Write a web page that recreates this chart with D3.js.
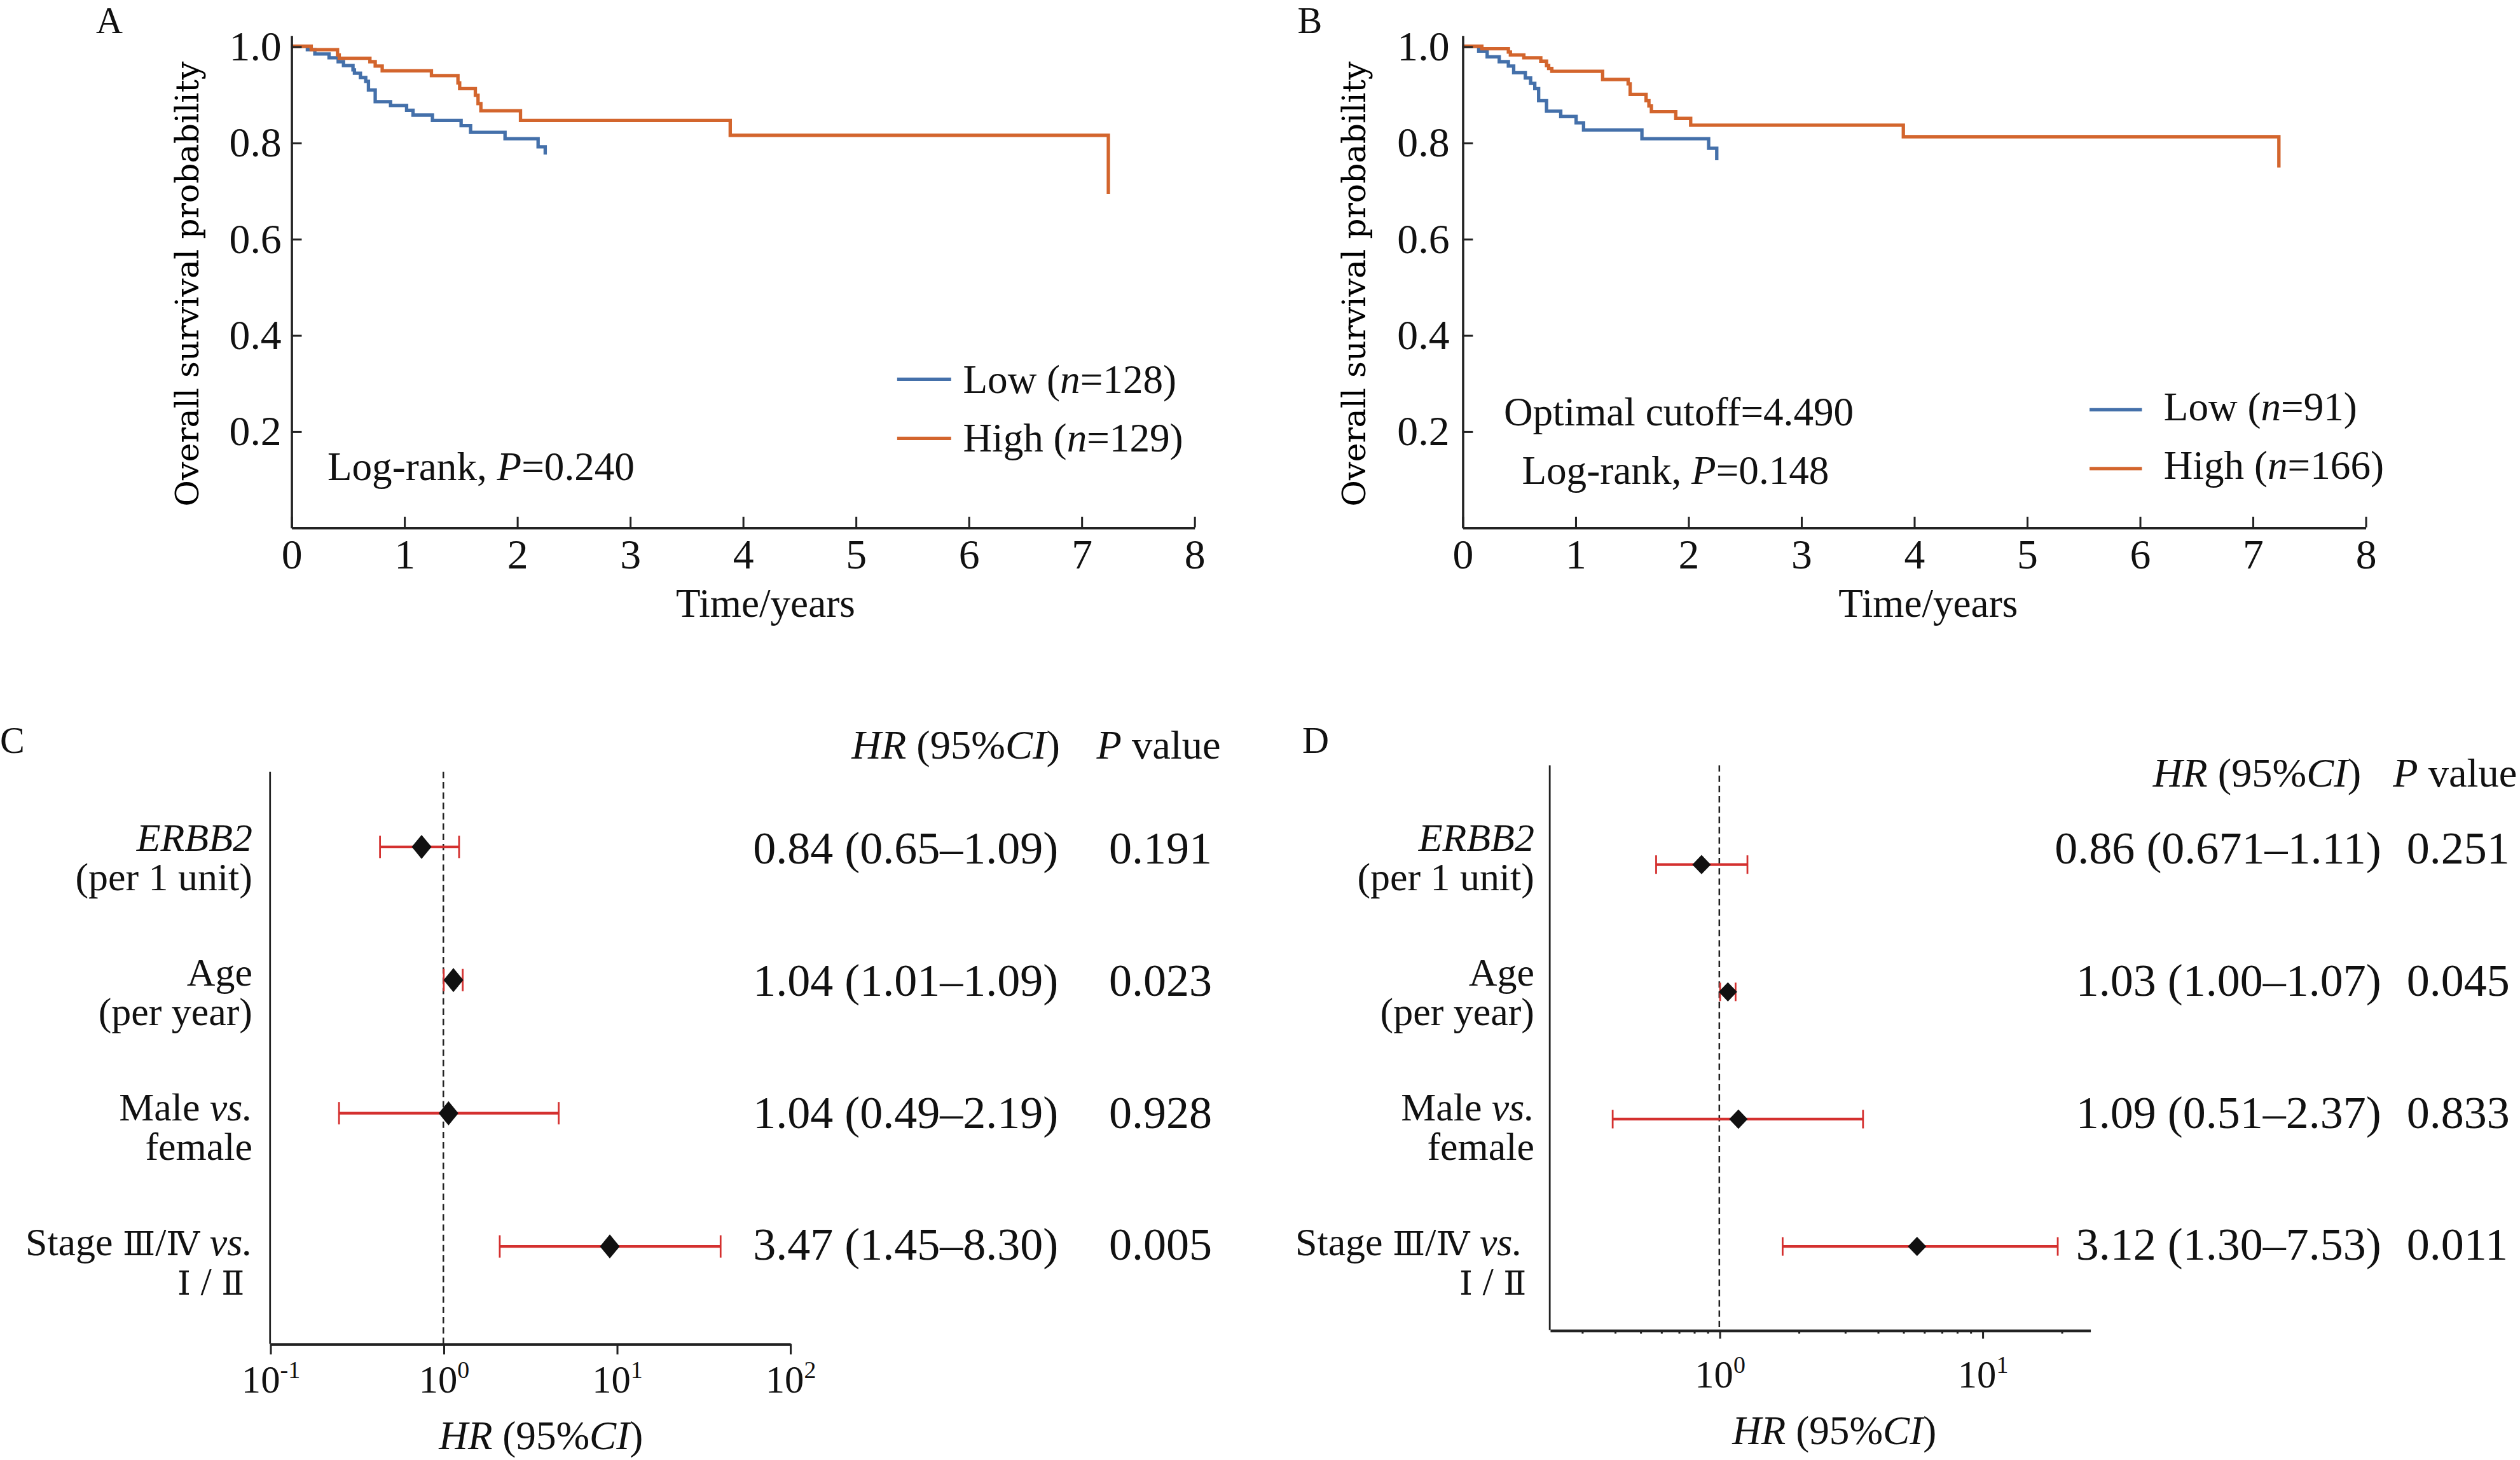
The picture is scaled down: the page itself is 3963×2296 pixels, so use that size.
<!DOCTYPE html>
<html lang="en">

<head>
  <meta charset="utf-8" />
  <title>ERBB2 survival and Cox regression</title>
  <script src="https://cdn.jsdelivr.net/npm/d3@7"></script>
  <style>
    body {
      margin: 0;
      background: #fff;
    }

    svg {
      display: block;
    }

    text {
      font-family: "Liberation Serif", "Times New Roman", "DejaVu Serif", serif;
      fill: #111;
    }

    .roman {
      font-family: "DejaVu Serif", serif;
      font-size: 21px;
    }

    .axis path,
    .axis line {
      stroke: #222;
    }

    .km-axis path {
      stroke-width: 1.4px;
    }

    .km-axis line {
      stroke-width: 1.2px;
    }

    .km-axis text {
      font-size: 26px;
    }

    .km-line {
      fill: none;
      stroke-width: 2.1px;
    }

    .low {
      stroke: #4470aa;
    }

    .high {
      stroke: #d3652d;
    }

    .y-title {
      font-family: "DejaVu Serif", serif;
      font-size: 20px;
      fill: #000;
    }

    .title {
      font-size: 25px;
    }

    .panel-tag {
      font-size: 23px;
    }

    .forest-axis path {
      stroke-width: 1.8px;
    }

    .forest-axis line {
      stroke-width: 1.2px;
    }

    .forest-axis text {
      font-size: 24px;
    }

    .y-line {
      stroke: #222;
      stroke-width: 1.1px;
    }

    .ref-line {
      stroke: #222;
      stroke-width: 1px;
      stroke-dasharray: 4, 2.4;
    }

    .ci-line {
      stroke: #d4302f;
      stroke-width: 1.7px;
    }

    .ci-cap {
      stroke: #d4302f;
      stroke-width: 1.1px;
    }

    .row-label {
      font-size: 24.5px;
    }

    .row-value {
      font-size: 28.5px;
    }

    .header {
      font-size: 25.5px;
    }
  </style>
</head>

<body>
  <script>
    // ---- data ----
    var years = [0, 1, 2, 3, 4, 5, 6, 7, 8];
    var survTicks = [0.2, 0.4, 0.6, 0.8, 1.0];

    // panel A (median split)
    var lowTimeA = [0, 0.144, 0.21, 0.336, 0.417, 0.464, 0.548, 0.561, 0.614, 0.661, 0.685, 0.745, 0.881, 1.023, 1.08, 1.252, 1.506, 1.59, 1.895, 2.188, 2.251];
    var lowSurvA = [1, 0.993, 0.984, 0.976, 0.968, 0.96, 0.951, 0.944, 0.935, 0.927, 0.909, 0.885, 0.877, 0.867, 0.857, 0.846, 0.835, 0.821, 0.808, 0.791, 0.775];
    var highTimeA = [0, 0.178, 0.411, 0.426, 0.698, 0.745, 0.807, 1.243, 1.478, 1.493, 1.632, 1.656, 1.681, 2.032, 3.89, 7.24];
    var highSurvA = [1, 0.993, 0.982, 0.975, 0.968, 0.959, 0.949, 0.939, 0.924, 0.912, 0.898, 0.881, 0.866, 0.846, 0.815, 0.693];

    // panel B (optimal cutoff)
    var lowTimeB = [0, 0.145, 0.22, 0.327, 0.408, 0.455, 0.558, 0.605, 0.642, 0.676, 0.746, 0.872, 1.008, 1.074, 1.591, 2.182, 2.254];
    var lowSurvB = [1, 0.99, 0.978, 0.968, 0.959, 0.945, 0.934, 0.923, 0.912, 0.887, 0.865, 0.854, 0.841, 0.826, 0.808, 0.788, 0.763];
    var highTimeB = [0, 0.173, 0.408, 0.426, 0.545, 0.695, 0.746, 0.765, 0.793, 1.243, 1.469, 1.487, 1.628, 1.653, 1.675, 1.891, 2.023, 3.907, 7.234];
    var highSurvB = [1, 0.995, 0.988, 0.982, 0.976, 0.969, 0.96, 0.954, 0.948, 0.931, 0.922, 0.9, 0.887, 0.876, 0.864, 0.85, 0.836, 0.812, 0.748];

    // forest plots
    var rowKeys = ["erbb2", "age", "sex", "stage"];
    var rowLine1 = ["ERBB2", "Age", "Male vs.", "Stage Ⅲ/Ⅳ vs."];
    var rowLine2 = ["(per 1 unit)", "(per year)", "female", "Ⅰ / Ⅱ"];

    var hrC = [0.749, 1.143, 1.071, 9.13];
    var lowerC = [0.431, 1.005, 0.25, 2.115];
    var upperC = [1.232, 1.293, 4.63, 39.8];
    var hrTextC = ["0.84 (0.65–1.09)", "1.04 (1.01–1.09)", "1.04 (0.49–2.19)", "3.47 (1.45–8.30)"];
    var pTextC = ["0.191", "0.023", "0.928", "0.005"];
    var tickExpC = [-1, 0, 1, 2];

    var hrD = [0.856, 1.078, 1.182, 5.65];
    var lowerD = [0.575, 1.007, 0.393, 1.741];
    var upperD = [1.279, 1.153, 3.52, 19.37];
    var hrTextD = ["0.86 (0.671–1.11)", "1.03 (1.00–1.07)", "1.09 (0.51–2.37)", "3.12 (1.30–7.53)"];
    var pTextD = ["0.251", "0.045", "0.833", "0.011"];
    var tickExpD = [0, 1];

    // ---- drawing ----
    var svg = d3.select("body")
      .append("svg")
      .attr("width", 3963)
      .attr("height", 2296)
      .attr("viewBox", "0 0 1568 908.5");

    var italicWords = /(ERBB2|vs\.|HR|CI|P(?=[ =])|n(?==))/;
    var romanChars = /([\u2160-\u216B]+)/;

    // italic for variable names, a serif face for the roman numerals
    function richText(sel, str) {
      str.split(italicWords).forEach(function(part, i) {
        if (!part) return;
        part.split(romanChars).forEach(function(bit, j) {
          if (!bit) return;
          sel.append("tspan")
            .attr("font-style", i % 2 ? "italic" : null)
            .attr("class", j % 2 ? "roman" : null)
            .text(bit);
        });
      });
      return sel;
    }

    function zip(a, b) {
      return a.map(function(v, i) {
        return { t: v, s: b[i] };
      });
    }

    function drawKM(p) {
      var x = d3.scaleLinear().domain([0, 8]).range([p.left, p.left + 8 * 70.24]);
      var y = d3.scaleLinear().domain([0, 1.0227]).range([328.2, 22]);

      var line = d3.line()
        .curve(d3.curveStepAfter)
        .x(function(d) { return x(d.t); })
        .y(function(d) { return y(d.s); });

      svg.append("path")
        .datum(zip(p.lowT, p.lowS))
        .attr("class", "km-line low")
        .attr("d", line);

      svg.append("path")
        .datum(zip(p.highT, p.highS))
        .attr("class", "km-line high")
        .attr("d", line);

      var xAxis = d3.axisBottom(x)
        .tickValues(years)
        .tickSize(-6.6)
        .tickSizeOuter(0)
        .tickPadding(7);

      var yAxis = d3.axisLeft(y)
        .tickValues(survTicks)
        .tickFormat(d3.format(".1f"))
        .tickSize(-6.6)
        .tickSizeOuter(0)
        .tickPadding(p.yPad);

      svg.append("g")
        .attr("class", "axis km-axis")
        .attr("transform", "translate(0," + y(0) + ")")
        .attr("font-family", null)
        .attr("font-size", null)
        .call(xAxis);

      svg.append("g")
        .attr("class", "axis km-axis")
        .attr("transform", "translate(" + p.left + ",0)")
        .attr("font-family", null)
        .attr("font-size", null)
        .call(yAxis);

      svg.append("text")
        .attr("class", "y-title")
        .attr("transform", "translate(" + p.yTitleX + ",176.7) rotate(-90)")
        .attr("text-anchor", "middle")
        .text("Overall survival probability");

      svg.append("text")
        .attr("class", "title")
        .attr("x", p.xTitleX)
        .attr("y", 384)
        .attr("text-anchor", "middle")
        .text("Time/years");

      // legend
      [["low", p.legLow], ["high", p.legHigh]].forEach(function(l) {
        svg.append("line")
          .attr("class", "km-line " + l[0])
          .attr("stroke-width", 2.4)
          .attr("x1", p.legX1)
          .attr("x2", p.legX2)
          .attr("y1", l[1][0])
          .attr("y2", l[1][0]);
        richText(svg.append("text")
          .attr("class", "title")
          .attr("x", p.legText)
          .attr("y", l[1][1]), l[1][2]);
      });

      p.notes.forEach(function(n) {
        richText(svg.append("text")
          .attr("class", "title")
          .attr("font-size", 25.5)
          .attr("x", n[0])
          .attr("y", n[1]), n[2]);
      });

      svg.append("text")
        .attr("class", "panel-tag")
        .attr("x", p.tag[0])
        .attr("y", p.tag[1])
        .attr("text-anchor", "middle")
        .text(p.tag[2]);
    }

    drawKM({
      left: 181.1,
      yPad: 6,
      lowT: lowTimeA, lowS: lowSurvA, highT: highTimeA, highS: highSurvA,
      yTitleX: 123.5,
      xTitleX: 476.3,
      legX1: 558.2, legX2: 591.8, legText: 599.2,
      legLow: [236, 244.7, "Low (n=128)"],
      legHigh: [272.8, 281, "High (n=129)"],
      notes: [[203.7, 298.6, "Log-rank, P=0.240"]],
      tag: [68, 20.5, "A"]
    });

    drawKM({
      left: 909.9,
      yPad: 8,
      lowT: lowTimeB, lowS: lowSurvB, highT: highTimeB, highS: highSurvB,
      yTitleX: 849.6,
      xTitleX: 1199.8,
      legX1: 1300.2, legX2: 1332.8, legText: 1346.4,
      legLow: [255, 261.7, "Low (n=91)"],
      legHigh: [291.6, 298.1, "High (n=166)"],
      notes: [[935.7, 264.7, "Optimal cutoff=4.490"], [947, 301.1, "Log-rank, P=0.148"]],
      tag: [815, 20.5, "B"]
    });

    function diamond(cx, cy, w, h) {
      return "M" + cx + "," + (cy - h / 2) +
        "L" + (cx + w / 2) + "," + cy +
        "L" + cx + "," + (cy + h / 2) +
        "L" + (cx - w / 2) + "," + cy + "Z";
    }

    function drawForest(p) {
      var x = d3.scaleLog().domain(p.domain).range([p.left, p.right]);
      var y = d3.scalePoint().domain(rowKeys).range(p.rows);
      var yLabel = d3.scalePoint().domain(rowKeys).range([529.5, 781]);
      var yValue = d3.scalePoint().domain(rowKeys).range([537.5, 784]);

      var rows = rowKeys.map(function(k, i) {
        return { key: k, hr: p.hr[i], lo: p.lower[i], hi: p.upper[i], l1: rowLine1[i], l2: rowLine2[i], txt: p.hrText[i], pv: p.pText[i] };
      });

      // y axis line and reference line at HR = 1
      svg.append("line")
        .attr("class", "y-line")
        .attr("x1", p.left).attr("x2", p.left)
        .attr("y1", p.top).attr("y2", p.axisY);

      svg.append("line")
        .attr("class", "ref-line")
        .attr("x1", x(1)).attr("x2", x(1))
        .attr("y1", p.top).attr("y2", p.axisY);

      // minor ticks
      if (p.minor) {
        var minor = x.ticks().filter(function(v) {
          return Math.abs(Math.log10(v) - Math.round(Math.log10(v))) > 1e-6;
        });
        svg.append("g")
          .attr("class", "axis forest-axis")
          .attr("transform", "translate(0," + p.axisY + ")")
          .call(d3.axisBottom(x).tickValues(minor).tickSize(2.2).tickSizeOuter(0).tickFormat(""))
          .select(".domain").remove();
      }

      var xAxis = d3.axisBottom(x)
        .tickValues(p.exps.map(function(e) { return Math.pow(10, e); }))
        .tickSize(p.tickLen)
        .tickSizeOuter(0)
        .tickPadding(p.tickPad)
        .tickFormat("");

      var ax = svg.append("g")
        .attr("class", "axis forest-axis")
        .attr("transform", "translate(0," + p.axisY + ")")
        .attr("font-family", null)
        .attr("font-size", null)
        .call(xAxis);

      ax.selectAll(".tick text").each(function(d) {
        var e = Math.round(Math.log10(d));
        var t = d3.select(this).text(null);
        t.append("tspan").text("10");
        t.append("tspan")
          .attr("dy", -9)
          .attr("font-size", 15)
          .text(e < 0 ? "-" + Math.abs(e) : e);
      });

      // error bars
      var g = svg.selectAll(null)
        .data(rows)
        .enter()
        .append("g");

      g.append("line")
        .attr("class", "ci-line")
        .attr("x1", function(d) { return x(d.lo); })
        .attr("x2", function(d) { return x(d.hi); })
        .attr("y1", function(d) { return y(d.key); })
        .attr("y2", function(d) { return y(d.key); });

      ["lo", "hi"].forEach(function(k) {
        g.append("line")
          .attr("class", "ci-cap")
          .attr("x1", function(d) { return x(d[k]); })
          .attr("x2", function(d) { return x(d[k]); })
          .attr("y1", function(d) { return y(d.key) - p.cap / 2; })
          .attr("y2", function(d) { return y(d.key) + p.cap / 2; });
      });

      g.append("path")
        .attr("fill", "#111")
        .attr("d", function(d) { return diamond(x(d.hr), y(d.key), p.dw, p.dh); });

      // row labels
      g.append("text")
        .attr("class", "row-label")
        .attr("text-anchor", "end")
        .attr("x", function(d, i) { return p.labelRight - (i === 3 ? p.stageShift : 0); })
        .attr("y", function(d) { return yLabel(d.key); })
        .each(function(d) { richText(d3.select(this), d.l1); });

      g.append("text")
        .attr("class", "row-label")
        .attr("text-anchor", "end")
        .attr("x", function(d, i) { return p.labelRight - (i === 3 ? 5 : 0); })
        .attr("y", function(d) { return yLabel(d.key) + 24.5; })
        .each(function(d) { richText(d3.select(this), d.l2); });

      g.append("text")
        .attr("class", "row-value")
        .attr("text-anchor", "end")
        .attr("x", p.valueRight)
        .attr("y", function(d) { return yValue(d.key); })
        .text(function(d) { return d.txt; });

      g.append("text")
        .attr("class", "row-value")
        .attr("x", p.pLeft)
        .attr("y", function(d) { return yValue(d.key); })
        .text(function(d) { return d.pv; });

      // headers
      richText(svg.append("text")
        .attr("class", "header")
        .attr("text-anchor", "end")
        .attr("x", p.headHR)
        .attr("y", p.headY), "HR (95%CI)");

      richText(svg.append("text")
        .attr("class", "header")
        .attr("x", p.headP)
        .attr("y", p.headY), "P value");

      richText(svg.append("text")
        .attr("class", "title")
        .attr("text-anchor", "middle")
        .attr("x", p.xTitle[0])
        .attr("y", p.xTitle[1]), "HR (95%CI)");

      svg.append("text")
        .attr("class", "panel-tag")
        .attr("x", p.tag[0])
        .attr("y", p.tag[1])
        .attr("text-anchor", "middle")
        .text(p.tag[2]);
    }

    drawForest({
      domain: [0.1, 100],
      left: 168, right: 491.5,
      top: 480.3, axisY: 836.2,
      rows: [527, 775.6],
      hr: hrC, lower: lowerC, upper: upperC, hrText: hrTextC, pText: pTextC,
      exps: tickExpC, tickLen: 6.6, tickPad: 6.7, minor: false,
      cap: 13.9, dw: 12.3, dh: 15,
      labelRight: 157, stageShift: 0,
      valueRight: 658.5, pLeft: 690,
      headHR: 659.5, headP: 682.3, headY: 472,
      xTitle: [336.6, 901.8],
      tag: [7.6, 468.5, "C"]
    });

    drawForest({
      domain: [0.2265, 25.7],
      left: 964.3, right: 1300.5,
      top: 476.2, axisY: 827.7,
      rows: [538, 775.6],
      hr: hrD, lower: lowerD, upper: upperD, hrText: hrTextD, pText: pTextD,
      exps: tickExpD, tickLen: 5.3, tickPad: 13.3, minor: true,
      cap: 11.5, dw: 11.5, dh: 12,
      labelRight: 954.7, stageShift: 7.5,
      valueRight: 1481.7, pLeft: 1497.5,
      headHR: 1469.2, headP: 1489, headY: 489.6,
      xTitle: [1141.4, 898.6],
      tag: [818.6, 468.5, "D"]
    });
  </script>
</body>

</html>
